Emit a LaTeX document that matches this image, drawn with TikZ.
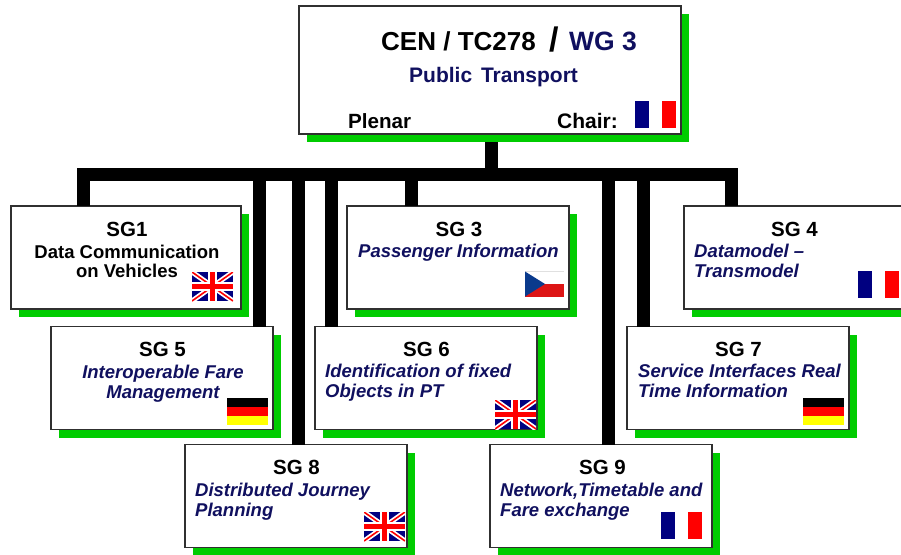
\documentclass[tikz,border=0pt]{standalone}
\usepackage{fontspec}
\setmainfont{Liberation Sans}
\usetikzlibrary{calc}
\definecolor{shadowgreen}{HTML}{00CC00}
\definecolor{navytext}{HTML}{10105F}
\definecolor{flagblue}{HTML}{000080}
\definecolor{flagred}{HTML}{FF0000}
\definecolor{flagyellow}{HTML}{FFFF00}
\definecolor{frameg}{HTML}{303030}
\definecolor{czblue}{HTML}{0A3A8C}
\definecolor{czred}{HTML}{DD1515}
\definecolor{czline}{HTML}{E0E0E0}
\tikzset{
  x=1pt,y=-1pt,
  panel/.style={draw=frameg,line width=1.1pt,fill=white,minimum width=#1,minimum height=103pt,inner sep=0pt,outer sep=0pt},
  panel/.default=222pt,
  backing/.style={fill=shadowgreen,draw=none,minimum width=#1,minimum height=103pt,inner sep=0pt,outer sep=0pt},
  backing/.default=222pt,
  bus/.style={line width=13pt,draw=black},
  sgtitle/.style={font=\bfseries\fontsize{20.5}{22}\selectfont,text=black,anchor=base,inner sep=0pt},
  sgbody/.style={font=\bfseries\itshape\fontsize{18.5}{20}\selectfont,text=navytext,anchor=base west,inner sep=0pt},
  sgbodyc/.style={font=\bfseries\itshape\fontsize{18.5}{20}\selectfont,text=navytext,anchor=base,inner sep=0pt},
  sgplain/.style={font=\bfseries\fontsize{18.5}{20}\selectfont,text=black,anchor=base,inner sep=0pt},
  headtext/.style={anchor=base west,inner sep=0pt,font=\bfseries\fontsize{#1}{#1}\selectfont},
}
\newcommand{\flagFR}[2]{%
  \fill[flagblue] (#1,#2) rectangle ++(14,27);
  \fill[flagred] ($(#1,#2)+(27,0)$) rectangle ++(14,27);}
\newcommand{\flagDE}[2]{%
  \fill[black] (#1,#2) rectangle ++(41,9);
  \fill[flagred] ($(#1,#2)+(0,9)$) rectangle ++(41,9);
  \fill[flagyellow] ($(#1,#2)+(0,18)$) rectangle ++(41,9);}
\newcommand{\flagCZ}[2]{%
  \draw[czline,line width=0.6pt] (#1,#2) -- ++(39,0);
  \fill[czred] ($(#1,#2)+(0,12.5)$) rectangle ++(39,12.5);
  \fill[czblue] (#1,#2) -- ++(20,12.5) -- ++(-20,12.5) -- cycle;}
\newcommand{\flagUK}[2]{%
  \begin{scope}[shift={(#1,#2)}]
    \clip (0,0) rectangle (41,29);
    \fill[flagblue] (0,0) rectangle (41,29);
    \draw[white,line width=5pt] (0,0) -- (41,29) (41,0) -- (0,29);
    \draw[flagred,line width=1.6pt] (0,0) -- (41,29) (41,0) -- (0,29);
    \fill[white] (16,0) rectangle (25,29);
    \fill[white] (0,10) rectangle (41,19);
    \fill[flagred] (18,0) rectangle (23,29);
    \fill[flagred] (0,12) rectangle (41,17);
  \end{scope}}
\begin{document}
\begin{tikzpicture}
\useasboundingbox (0,0) rectangle (901,554);
\clip (0,0) rectangle (901,554);
\coordinate (busL) at (77,174.5);
\coordinate (busR) at (738,174.5);
\coordinate (busM) at (491.5,174.5);
\coordinate (j1) at (83.5,174.5);
\coordinate (j5) at (259.5,174.5);
\coordinate (j8) at (298.5,174.5);
\coordinate (j6) at (331.5,174.5);
\coordinate (j3) at (411.5,174.5);
\coordinate (j9) at (608.5,174.5);
\coordinate (j7) at (643.5,174.5);
\coordinate (j4) at (731.5,174.5);
\node[backing=382pt,minimum height=128pt] at (498,78) {};
\foreach \cx/\cy/\w in {134/265.5/230pt, 170/386/222pt, 304/504/222pt, 466/265.5/222pt, 434/386/222pt, 746/386/222pt, 609/504/222pt, 811/265.5/238pt}{
  \node[backing=\w] at (\cx,\cy) {};
}
\node[panel=382pt,minimum height=128pt] (main) at (490,70) {};
\node[panel=230pt] (sg1) at (126,257.5) {};
\node[panel=222pt] (sg5) at (162,378) {};
\node[panel=222pt] (sg8) at (296,496) {};
\node[panel=222pt] (sg3) at (458,257.5) {};
\node[panel=222pt] (sg6) at (426,378) {};
\node[panel=222pt] (sg7) at (738,378) {};
\node[panel=222pt] (sg9) at (601,496) {};
\node[panel=238pt] (sg4) at (803,257.5) {};
\draw[bus,shorten <=8pt] (main.south -| busM) -- (busM);
\draw[bus] (busL) -- (busR);
\draw[bus] (j1) -- (j1 |- sg1.north);
\draw[bus] (j5) -- (j5 |- sg5.north);
\draw[bus] (j8) -- (j8 |- sg8.north);
\draw[bus] (j6) -- (j6 |- sg6.north);
\draw[bus] (j3) -- (j3 |- sg3.north);
\draw[bus] (j9) -- (j9 |- sg9.north);
\draw[bus] (j7) -- (j7 |- sg7.north);
\draw[bus] (j4) -- (j4 |- sg4.north);
\node[headtext=26] (t0a) at (381,50) {CEN / TC278};
\node[headtext=34] (t0b) at (549,51) {/};
\node[headtext=26.5,text=navytext] (t0c) at (569,50) {WG 3};
\node[headtext=21,text=navytext] (t0d) at (409,82) {Public\hspace{3pt} Transport};
\node[headtext=20.6] (t0e) at (348,128) {Plenar};
\node[headtext=21] (t0f) at (557,128) {Chair:};
\node[sgtitle] (t1) at (127,236) {SG1};
\node[sgplain] (t1a) at (127,258) {Data Communication};
\node[sgplain] (t1b) at (127,277) {on Vehicles};
\node[sgtitle] (t5) at (162.5,356) {SG 5};
\node[sgbodyc] (t5a) at (163,378) {Interoperable Fare};
\node[sgbodyc] (t5b) at (163,398) {Management};
\node[sgtitle] (t8) at (296.5,474) {SG 8};
\node[sgbody] (t8a) at (195,496) {Distributed Journey};
\node[sgbody] (t8b) at (195,516) {Planning};
\node[sgtitle] (t3) at (459,236) {SG 3};
\node[sgbody] (t3a) at (358,257) {Passenger Information};
\node[sgtitle] (t6) at (426.5,356) {SG 6};
\node[sgbody] (t6a) at (325,377) {Identification of fixed};
\node[sgbody] (t6b) at (325,397) {Objects in PT};
\node[sgtitle] (t7) at (738.5,356) {SG 7};
\node[sgbody] (t7a) at (638,377) {Service Interfaces Real};
\node[sgbody] (t7b) at (638,397) {Time Information};
\node[sgtitle] (t9) at (602.5,474) {SG 9};
\node[sgbody] (t9a) at (500,496) {Network,Timetable and};
\node[sgbody] (t9b) at (500,516) {Fare exchange};
\node[sgtitle] (t4) at (794.5,236) {SG 4};
\node[sgbody] (t4a) at (694,257) {Datamodel –};
\node[sgbody] (t4b) at (694,277) {Transmodel};
\flagFR{635}{101}
\flagUK{192}{272}
\flagDE{227}{398}
\flagCZ{525}{271.5}
\flagFR{858}{271}
\flagUK{495}{400}
\flagDE{803}{398}
\flagUK{364}{512}
\flagFR{661}{512}
\end{tikzpicture}
\end{document}
